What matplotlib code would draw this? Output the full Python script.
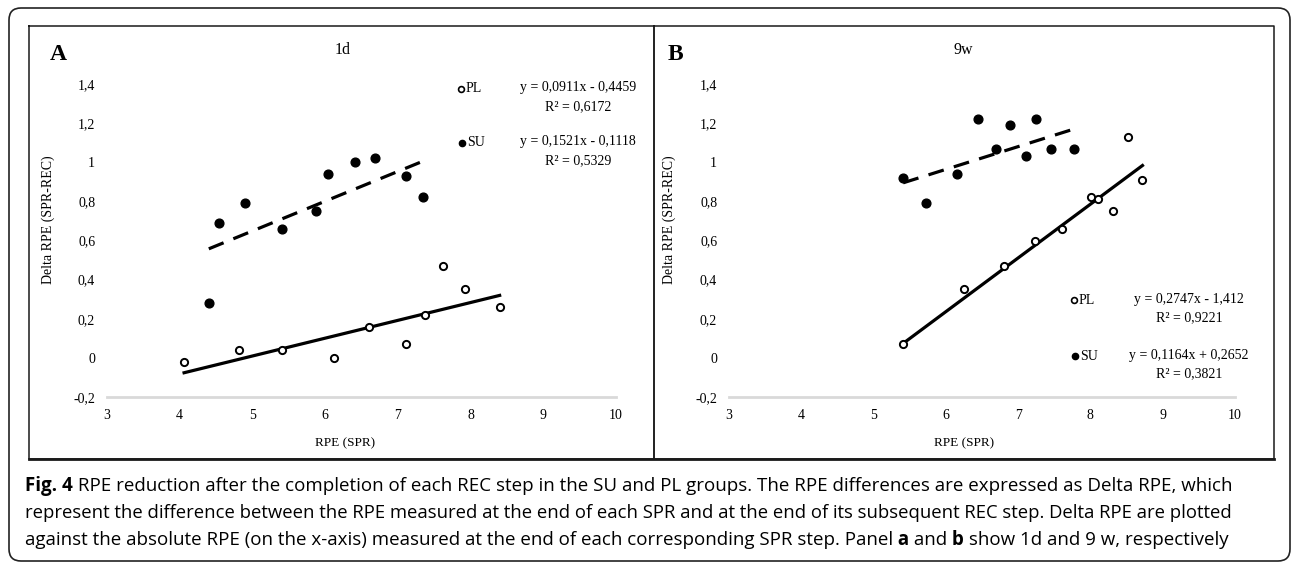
import numpy as np
import matplotlib
matplotlib.use("Agg")
import matplotlib.pyplot as plt
from matplotlib.patches import FancyBboxPatch

W, H = 1292, 563
SERIF = "Liberation Serif"
SANS = "Open Sans"

# RPE (SPR) vs Delta RPE, day 1
a_pl_x = [4.06, 4.81, 5.41, 6.12, 6.60, 7.11, 7.37, 7.62, 7.93, 8.40]
a_pl_y = [-0.02, 0.04, 0.04, 0.00, 0.16, 0.07, 0.22, 0.47, 0.35, 0.26]
a_su_x = [4.40, 4.54, 4.90, 5.41, 5.87, 6.04, 6.41, 6.68, 7.11, 7.35]
a_su_y = [0.28, 0.69, 0.79, 0.66, 0.75, 0.94, 1.00, 1.02, 0.93, 0.82]

# week 9
b_pl_x = [5.41, 6.25, 6.81, 7.23, 7.60, 8.01, 8.11, 8.31, 8.52, 8.72]
b_pl_y = [0.07, 0.35, 0.47, 0.60, 0.66, 0.82, 0.81, 0.75, 1.13, 0.91]
b_su_x = [5.41, 5.72, 6.16, 6.45, 6.70, 6.89, 7.11, 7.25, 7.45, 7.77]
b_su_y = [0.92, 0.79, 0.94, 1.22, 1.07, 1.19, 1.03, 1.22, 1.07, 1.07]

# linear trendlines (slope, intercept, R2)
a_pl_fit = (0.0911, -0.4459, 0.6172)
a_su_fit = (0.1521, -0.1118, 0.5329)
b_pl_fit = (0.2747, -1.412, 0.9221)
b_su_fit = (0.1164, 0.2652, 0.3821)

xticks = [3, 4, 5, 6, 7, 8, 9, 10]
yticks = [-0.2, 0, 0.2, 0.4, 0.6, 0.8, 1.0, 1.2, 1.4]
ytick_labels = ["-0,2", "0", "0,2", "0,4", "0,6", "0,8", "1", "1,2", "1,4"]

caption = [
    [("Fig. 4", "bold"), (" RPE reduction after the completion of each REC step in the SU and PL groups. "
                          "The RPE differences are expressed as Delta RPE, which", "normal")],
    [("represent the difference between the RPE measured at the end of each SPR and at the end of "
      "its subsequent REC step. Delta RPE are plotted", "normal")],
    [("against the absolute RPE (on the x-axis) measured at the end of each corresponding SPR step. "
      "Panel", "normal"), (" a", "bold"), (" and", "normal"), (" b", "bold"),
     (" show 1d and 9 w, respectively", "normal")],
]
caption_ends = [1227, 1229, 1225]

fig = plt.figure(figsize=(W / 100, H / 100), dpi=100)

# pixel-space canvas for frames, labels and caption
bg = fig.add_axes([0, 0, 1, 1], zorder=0)
bg.set_xlim(0, W)
bg.set_ylim(H, 0)
bg.axis("off")

bg.add_patch(FancyBboxPatch((9, 8), 1281, 553, boxstyle="round,pad=0,rounding_size=12",
                            fc="white", ec="#222222", lw=1.2))
for x0, x1 in [(29, 654), (654, 1274)]:
    bg.plot([x0, x1, x1, x0, x0], [26, 26, 459, 459, 26], color="#1a1a1a", lw=1.1)
bg.plot([29, 1274], [459, 459], color="#1a1a1a", lw=2.0)


def fit_label(fit):
    m, b, r2 = fit
    sign = "+" if b >= 0 else "-"
    eq = f"y = {m:.4f}x {sign} {abs(b):.4g}".replace(".", ",")
    return eq, f"R² = {r2:.4f}".replace(".", ",")


def draw_panel(left, width, pl_x, pl_y, su_x, su_y, pl_fit, su_fit):
    ax = fig.add_axes([left / W, 1 - 397 / H, width / W, (397 - 84) / H], zorder=2)
    ax.patch.set_alpha(0)
    ax.set_xlim(3, 10)
    ax.set_ylim(-0.2, 1.4)
    for s in ["top", "right", "left"]:
        ax.spines[s].set_visible(False)
    ax.spines["bottom"].set_color("#d9d9d9")
    ax.spines["bottom"].set_linewidth(2)
    ax.set_xticks(xticks)
    ax.set_yticks(yticks)
    ax.set_yticklabels(ytick_labels)
    ax.tick_params(length=0, labelsize=10, pad=8.5)
    for lab in ax.get_xticklabels() + ax.get_yticklabels():
        lab.set_family(SERIF)

    for xs, ys, fit, ls in [(pl_x, pl_y, pl_fit, "-"), (su_x, su_y, su_fit, (0, (5, 3.3)))]:
        tx = np.array([min(xs), max(xs)])
        ax.plot(tx, fit[0] * tx + fit[1], color="black", lw=2.3, ls=ls, clip_on=False)
    ax.plot(pl_x, pl_y, "o", ms=5.2, mfc="white", mec="black", mew=1.4, clip_on=False)
    ax.plot(su_x, su_y, "o", ms=6.3, color="black", clip_on=False)
    return ax


draw_panel(107, 509, a_pl_x, a_pl_y, a_su_x, a_su_y, a_pl_fit, a_su_fit)
draw_panel(729, 506, b_pl_x, b_pl_y, b_su_x, b_su_y, b_pl_fit, b_su_fit)

# panel letters, titles, axis labels
for letter, title, px, tx, lx, cx in [("A", "1d", 58, 343, 48, 345), ("B", "9w", 675, 963, 669, 964)]:
    bg.text(px, 54, letter, family=SERIF, fontweight="bold", fontsize=17, ha="center", va="center")
    bg.text(tx, 50, title, family=SERIF, fontsize=11.5, ha="center", va="center")
    bg.text(lx, 220, "Delta RPE (SPR-REC)", family=SERIF, fontsize=10, rotation=90,
            ha="center", va="center")
    bg.text(cx, 443, "RPE (SPR)", family=SERIF, fontsize=9.5, ha="center", va="center")

# trendline legends
legend_spots = [
    (461, 578, 89, "PL", False, a_pl_fit), (462, 578, 143, "SU", True, a_su_fit),
    (1074, 1189, 300, "PL", False, b_pl_fit), (1075, 1189, 356, "SU", True, b_su_fit),
]
for mx, ex, y, name, filled, fit in legend_spots:
    if filled:
        bg.plot([mx], [y], "o", ms=4.5, color="black")
    else:
        bg.plot([mx], [y], "o", ms=4.2, mfc="white", mec="black", mew=1.2)
    bg.text(mx + 5, y, name, family=SERIF, fontsize=10, ha="left", va="center")
    eq, r2 = fit_label(fit)
    bg.text(ex, y - 1, eq, family=SERIF, fontsize=10, ha="center", va="center")
    bg.text(ex, y + 18, r2, family=SERIF, fontsize=10, ha="center", va="center")

# caption with mixed weights, each line sized to its width
renderer = fig.canvas.get_renderer()


def draw_line(x, y, parts, size):
    items = []
    for s, weight in parts:
        t = bg.text(x, y, s, family=SANS, fontweight=weight, fontsize=size, ha="left", va="center")
        x += t.get_window_extent(renderer).width
        items.append(t)
    return x, items


for parts, y, x_end in zip(caption, [486, 513, 540], caption_ends):
    end, probe = draw_line(25, y, parts, 12)
    for t in probe:
        t.remove()
    draw_line(25, y, parts, 12 * (x_end - 25) / (end - 25))

fig.savefig("out.png", dpi=100)
